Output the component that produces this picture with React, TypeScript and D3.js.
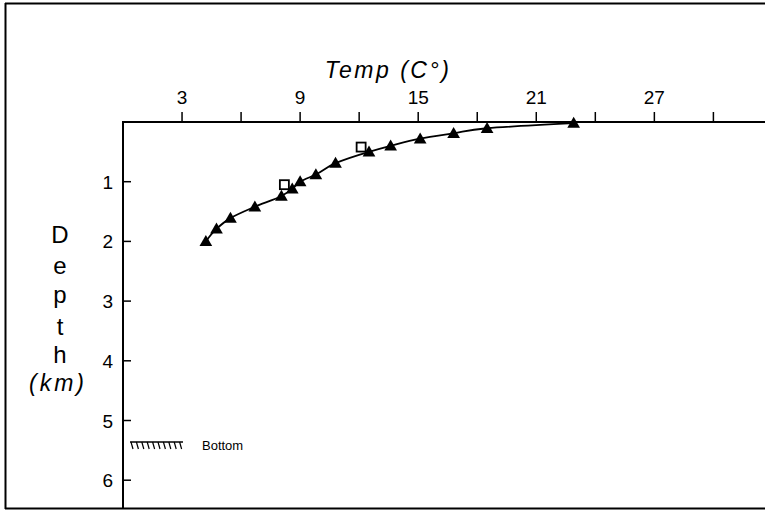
import React from "react";
import * as d3 from "d3";

const tempTicks = [3, 9, 15, 21, 27];
const tempMinorTicks = [6, 12, 18, 24, 30];
const depthTicks = [1, 2, 3, 4, 5, 6];
const profileTemp = [22.9, 18.5, 16.8, 15.1, 13.6, 12.5, 10.8, 9.8, 9.0, 8.6, 8.05, 6.7, 5.46, 4.75, 4.21];
const profileDepth = [0.02, 0.105, 0.19, 0.28, 0.4, 0.5, 0.69, 0.88, 1.0, 1.12, 1.24, 1.42, 1.61, 1.79, 2.0];
const openTemp = [12.1, 8.2];
const openDepth = [0.42, 1.05];
const bottomDepth = 5.36;
const depthLetters = ["D", "e", "p", "t", "h"];
const letterBaselines = [243, 274, 303, 335, 363];

export default function App() {
  const W = 765, H = 512;
  const x0 = 123, y0 = 122;
  const x = d3.scaleLinear().domain([0, 30]).range([x0, x0 + 30 * 19.68]);
  const y = d3.scaleLinear().domain([0, 6]).range([y0, y0 + 6 * 59.7]);
  const line = d3.line<number>()
    .x((_, i) => x(profileTemp[i]))
    .y((_, i) => y(profileDepth[i]))
    .curve(d3.curveMonotoneY);
  const tri = d3.symbol().type(d3.symbolTriangle).size(70)();
  const font = "'Liberation Sans', Arial, sans-serif";
  const by = y(bottomDepth);
  const hatch: number[] = d3.range(0, 10).map((k) => 131 + k * 5.4);
  return (
    <svg width={W} height={H} style={{ position: "absolute", left: 0, top: 0, background: "#fff" }}>
      <rect x={0} y={0} width={W} height={H} fill="#fff" />
      {/* outer frame */}
      <line x1={5} y1={3.5} x2={W} y2={3.5} stroke="#000" strokeWidth={2} />
      <line x1={5.5} y1={3} x2={5.5} y2={509} stroke="#000" strokeWidth={2} />
      <line x1={5} y1={508.5} x2={W} y2={508.5} stroke="#000" strokeWidth={2} />
      {/* axes */}
      <line x1={x0} y1={y0} x2={W} y2={y0} stroke="#000" strokeWidth={2} />
      <line x1={x0} y1={y0 - 1} x2={x0} y2={509} stroke="#000" strokeWidth={2} />
      {[...tempTicks, ...tempMinorTicks].map((t) => (
        <line key={"t" + t} x1={x(t)} x2={x(t)} y1={y0} y2={y0 - 10} stroke="#000" strokeWidth={1.5} />
      ))}
      {tempTicks.map((t) => (
        <text key={"tl" + t} x={x(t)} y={104} textAnchor="middle" fontFamily={font} fontSize={19}>{t}</text>
      ))}
      {depthTicks.map((d) => (
        <line key={"d" + d} x1={x0} x2={x0 + 8} y1={y(d)} y2={y(d)} stroke="#000" strokeWidth={1.5} />
      ))}
      {depthTicks.map((d) => (
        <text key={"dl" + d} x={113} y={y(d) + 7} textAnchor="end" fontFamily={font} fontSize={19}>{d}</text>
      ))}
      {/* titles */}
      <text x={388} y={78} textAnchor="middle" fontFamily={font} fontStyle="italic" fontSize={23} letterSpacing={2.5}>Temp (C°)</text>
      {depthLetters.map((c, i) => (
        <text key={c} x={60} y={letterBaselines[i]} textAnchor="middle" fontFamily={font} fontSize={24}>{c}</text>
      ))}
      <text x={58} y={391} textAnchor="middle" fontFamily={font} fontStyle="italic" fontSize={23} letterSpacing={3}>(km)</text>
      {/* bottom marker */}
      <line x1={130} x2={183} y1={by} y2={by} stroke="#000" strokeWidth={1.5} />
      {hatch.map((hx) => (
        <line key={hx} x1={hx} x2={hx + 2} y1={by} y2={by + 7} stroke="#000" strokeWidth={1.2} />
      ))}
      <text x={202} y={by + 8} fontFamily={font} fontSize={13}>Bottom</text>
      {/* profile */}
      <path d={line(profileTemp) || ""} fill="none" stroke="#000" strokeWidth={1.8} />
      {profileTemp.map((t, i) => (
        <path key={"p" + i} d={tri || ""} transform={`translate(${x(t)},${y(profileDepth[i]) + 1})`} fill="#000" />
      ))}
      {openTemp.map((t, i) => (
        <rect key={"o" + i} x={x(t) - 4.5} y={y(openDepth[i]) - 4.5} width={9} height={9} fill="#fff" stroke="#000" strokeWidth={1.8} />
      ))}
    </svg>
  );
}
